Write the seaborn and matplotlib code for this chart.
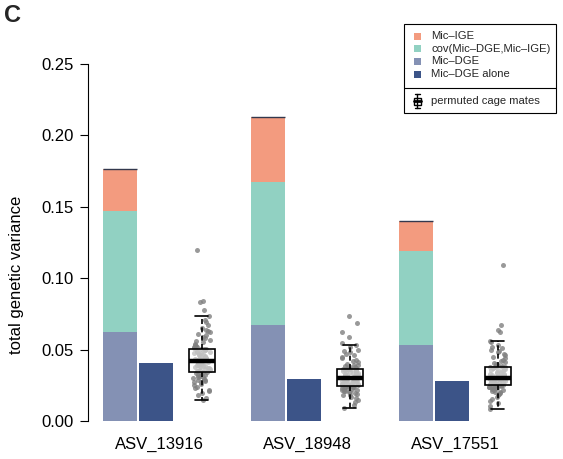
import numpy as np
import pandas as pd
import matplotlib.pyplot as plt
import seaborn as sns
from matplotlib.patches import Rectangle
from matplotlib.lines import Line2D

sns.set_style('white')
plt.rcParams['font.family'] = ['Liberation Sans', 'DejaVu Sans']

# data
asv = ['ASV_13916', 'ASV_18948', 'ASV_17551']
mic_dge = [0.0623, 0.0672, 0.0532]
cov_dge_ige = [0.0847, 0.1004, 0.0658]
mic_ige = [0.0295, 0.0453, 0.0208]
mic_dge_alone = [0.0405, 0.0294, 0.0280]

# permuted cage mates
perm_13916 = [0.0147, 0.016, 0.018, 0.0195, 0.021, 0.022, 0.023, 0.024, 0.025, 0.026,
              0.027, 0.0275, 0.028, 0.0285, 0.029, 0.0295, 0.030, 0.0305, 0.031, 0.0315,
              0.032, 0.0325, 0.033, 0.0335, 0.034,
              0.0345, 0.035, 0.0353, 0.0356, 0.036, 0.0363, 0.0366, 0.037, 0.0373, 0.0376,
              0.038, 0.0383, 0.0386, 0.039, 0.0393, 0.0396, 0.040, 0.0403, 0.0406, 0.041,
              0.0413, 0.0416, 0.0419, 0.042, 0.042,
              0.0422, 0.0425, 0.0428, 0.0431, 0.0434, 0.0437, 0.044, 0.0443, 0.0446, 0.045,
              0.0454, 0.0458, 0.0462, 0.0466, 0.047, 0.0474, 0.0478, 0.0482, 0.0486, 0.049,
              0.0494, 0.0498, 0.0502, 0.0504, 0.0506,
              0.051, 0.0515, 0.052, 0.0525, 0.053, 0.054, 0.055, 0.056, 0.057, 0.058,
              0.059, 0.060, 0.061, 0.062, 0.063, 0.064, 0.065, 0.067, 0.069, 0.071,
              0.0735, 0.078, 0.083, 0.084, 0.120]
perm_18948 = [0.0091, 0.011, 0.013, 0.0145, 0.016, 0.017, 0.018, 0.0185, 0.019, 0.0195,
              0.020, 0.0205, 0.021, 0.0213, 0.0216, 0.022, 0.0223, 0.0226, 0.023, 0.0233,
              0.0236, 0.0239, 0.0241, 0.0243, 0.0245,
              0.0247, 0.025, 0.0252, 0.0255, 0.0257, 0.026, 0.0262, 0.0265, 0.0267, 0.027,
              0.0272, 0.0275, 0.0277, 0.028, 0.0282, 0.0285, 0.0287, 0.029, 0.0292, 0.0294,
              0.0296, 0.0298, 0.030, 0.0301, 0.0302,
              0.0304, 0.0306, 0.0308, 0.031, 0.0313, 0.0316, 0.0319, 0.0322, 0.0325, 0.0328,
              0.0331, 0.0334, 0.0337, 0.034, 0.0343, 0.0346, 0.0349, 0.0352, 0.0355, 0.0357,
              0.0359, 0.0361, 0.0363, 0.0364, 0.0365,
              0.0367, 0.037, 0.0375, 0.038, 0.0385, 0.039, 0.0395, 0.040, 0.041, 0.042,
              0.043, 0.044, 0.045, 0.046, 0.047, 0.048, 0.049, 0.050, 0.052, 0.0535,
              0.0546, 0.059, 0.062, 0.0686, 0.0735]
perm_17551 = [0.0084, 0.0105, 0.0125, 0.014, 0.0155, 0.017, 0.018, 0.019, 0.0195, 0.020,
              0.0205, 0.021, 0.0215, 0.022, 0.0223, 0.0226, 0.023, 0.0233, 0.0236, 0.024,
              0.0243, 0.0245, 0.0247, 0.0249, 0.0251,
              0.0253, 0.0255, 0.0257, 0.0259, 0.0261, 0.0263, 0.0266, 0.0269, 0.0272, 0.0275,
              0.0278, 0.0281, 0.0284, 0.0287, 0.029, 0.0292, 0.0294, 0.0296, 0.0298, 0.0299,
              0.030, 0.0301, 0.0302, 0.0302, 0.0303,
              0.0304, 0.0306, 0.0309, 0.0312, 0.0315, 0.0318, 0.0321, 0.0324, 0.0327, 0.033,
              0.0334, 0.0338, 0.0342, 0.0346, 0.035, 0.0354, 0.0358, 0.0362, 0.0366, 0.037,
              0.0373, 0.0375, 0.0377, 0.0378, 0.0379,
              0.0382, 0.0386, 0.039, 0.0395, 0.040, 0.0405, 0.041, 0.042, 0.043, 0.044,
              0.045, 0.046, 0.047, 0.048, 0.049, 0.050, 0.051, 0.052, 0.0535, 0.055,
              0.056, 0.062, 0.064, 0.067, 0.109]

legend_labels = ['Mic\u2013IGE', 'cov(Mic\u2013DGE,Mic\u2013IGE)', 'Mic\u2013DGE', 'Mic\u2013DGE alone']
col_ige, col_cov, col_dge, col_alone = '#F39B7F', '#91D1C2', '#8491B4', '#3C5488'

# layout (x in bar-width units)
spacing = 4.35
gx = np.arange(3) * spacing
x_alone = gx + 1.07
x_box = gx + 2.41

top_cov = np.array(mic_dge) + np.array(cov_dge_ige)
total = top_cov + np.array(mic_ige)

W, H = 563, 459
fig = plt.figure(figsize=(W / 100, H / 100), dpi=100)
ax = fig.add_axes([88 / W, 29 / H, 452 / W, 375 / H])

bw = 1 / spacing
bar_kw = dict(native_scale=True, width=bw, saturation=1, errorbar=None,
              linewidth=0, ax=ax)
sns.barplot(x=gx, y=total, color=col_ige, **bar_kw)
sns.barplot(x=gx, y=top_cov, color=col_cov, **bar_kw)
sns.barplot(x=gx, y=mic_dge, color=col_dge, **bar_kw)
sns.barplot(x=x_alone, y=mic_dge_alone, color=col_alone, **bar_kw)
ax.hlines(total, gx - 0.5, gx + 0.5, color='#33384d', lw=1, zorder=3)

perm = pd.DataFrame({
    'pos': np.repeat(x_box, [len(perm_13916), len(perm_18948), len(perm_17551)]),
    'val': perm_13916 + perm_18948 + perm_17551,
})
np.random.seed(3)
sns.stripplot(data=perm, x='pos', y='val', native_scale=True, jitter=0.06,
              color='#808080', alpha=0.8, size=3.6, linewidth=0, ax=ax, zorder=1)
sns.boxplot(data=perm, x='pos', y='val', native_scale=True, width=0.76 / spacing,
            showfliers=False, linecolor='black', linewidth=1.2,
            boxprops={'facecolor': (1, 1, 1, 0.5)},
            medianprops={'linewidth': 3.2},
            whiskerprops={'linestyle': (0, (3, 2))},
            ax=ax, zorder=3)

ax.set_xlim(-0.941, -0.941 + 452 / 34)
ax.set_ylim(-9 / 1428, -9 / 1428 + 375 / 1428)
ax.set_yticks([0, 0.05, 0.10, 0.15, 0.20, 0.25])
ax.set_yticklabels(['0.00', '0.05', '0.10', '0.15', '0.20', '0.25'])
ax.set_xticks(gx + 1.15)
ax.set_xticklabels(asv)
for s in ['top', 'right', 'bottom']:
    ax.spines[s].set_visible(False)
ax.spines['left'].set_bounds(0, 0.25)
ax.spines['left'].set_color('black')
ax.spines['left'].set_linewidth(0.8)
ax.tick_params(axis='y', left=True, direction='out', length=6, width=0.8,
               pad=4, labelsize=12, colors='black')
ax.tick_params(axis='x', bottom=False, length=0, pad=5, labelsize=12, colors='black')
ax.set_xlabel('')
ax.set_ylabel('total genetic variance', fontsize=12, color='black')
ax.yaxis.set_label_coords(-0.142, 0.413)

fig.text(4 / W, 1 - 4 / H, 'C', fontsize=17, fontweight='bold', va='top', ha='left')

# legend box drawn by hand
def px(x, y):
    return x / W, 1 - y / H

tf = fig.transFigure
fig.patches.append(Rectangle(px(404, 113), 152 / W, 89 / H, fill=False,
                             edgecolor='black', lw=0.8, transform=tf))
fig.lines.append(Line2D([404 / W, 556 / W], [1 - 88 / H] * 2, color='black', lw=0.8, transform=tf))
for row, (lab, c) in enumerate(zip(legend_labels, [col_ige, col_cov, col_dge, col_alone])):
    yy = 36 + row * 12.7
    fig.patches.append(Rectangle(px(413.5, yy + 3.5), 7 / W, 7 / H, facecolor=c,
                                 edgecolor='none', transform=tf))
    fig.text(431 / W, 1 - yy / H, lab, fontsize=8.1, va='center', ha='left')

# boxplot glyph
fig.lines.append(Line2D([417 / W] * 2, [1 - 94 / H, 1 - 108 / H], color='black', lw=1, transform=tf))
for yy in [94, 108]:
    fig.lines.append(Line2D([414.5 / W, 419.5 / W], [1 - yy / H] * 2, color='black', lw=1, transform=tf))
fig.patches.append(Rectangle(px(413.5, 104.5), 7 / W, 7 / H, facecolor='white',
                             edgecolor='black', lw=1, transform=tf))
fig.lines.append(Line2D([413.5 / W, 420.5 / W], [1 - 101 / H] * 2, color='black', lw=2, transform=tf))
fig.text(431 / W, 1 - 101 / H, 'permuted cage mates', fontsize=8.1, va='center', ha='left')

fig.savefig('out.png', dpi=100)
